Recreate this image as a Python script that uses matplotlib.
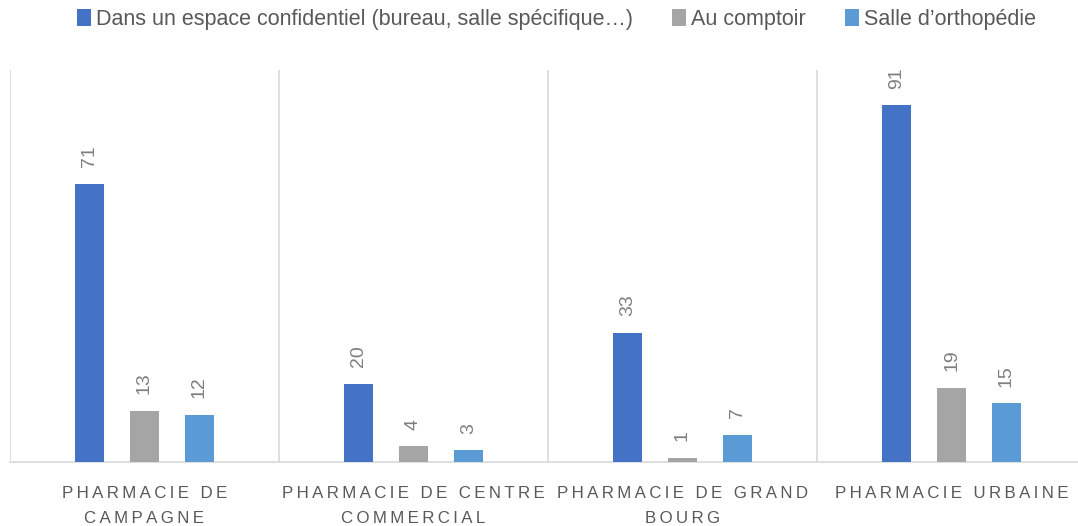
import numpy as np
import matplotlib.pyplot as plt
from matplotlib import font_manager

# Data
categories = ["PHARMACIE DE\nCAMPAGNE", "PHARMACIE DE CENTRE\nCOMMERCIAL",
              "PHARMACIE DE GRAND\nBOURG", "PHARMACIE URBAINE"]
series_names = ["Dans un espace confidentiel (bureau, salle spécifique…)",
                "Au comptoir", "Salle d’orthopédie"]
confidentiel = [71, 20, 33, 91]
comptoir = [13, 4, 1, 19]
orthopedie = [12, 3, 7, 15]
colors = ["#4472C4", "#A5A5A5", "#5B9BD5"]

names = {f.name for f in font_manager.fontManager.ttflist}
base = "Liberation Sans Narrow" if "Liberation Sans Narrow" in names else "Liberation Sans"
plt.rcParams['font.family'] = [base, 'DejaVu Sans']

THIN = "\u2009"


def spaced(label):
    # imitate letter spacing of the original
    lines = []
    for line in label.split("\n"):
        words = [THIN.join(w) for w in line.split(" ")]
        lines.append((THIN + " " + THIN).join(words))
    return "\n".join(lines)


fig = plt.figure(figsize=(10.78, 5.26), dpi=100)
ax = fig.add_axes([10 / 1078, 64 / 526, 1076 / 1078, 392 / 526])

x = np.arange(len(categories))
offset = 0.204
width = 0.108
all_series = [confidentiel, comptoir, orthopedie]
for k, (vals, col, name) in enumerate(zip(all_series, colors, series_names)):
    pos = x + (k - 1) * offset
    bars = ax.bar(pos, vals, width, color=col, label=name, zorder=3)
    for b, v in zip(bars, vals):
        ax.annotate(str(v), (b.get_x() + b.get_width() / 2, v),
                    xytext=(0, 12), textcoords="offset points",
                    rotation=90, ha='center', va='bottom',
                    fontsize=14, color="#7F7F7F")

ax.set_xlim(-0.5, len(categories) - 0.5)
ax.set_ylim(0, 100)
ax.set_yticks([])
for s in ['top', 'right', 'left']:
    ax.spines[s].set_visible(False)
ax.spines['bottom'].set_color("#D9D9D9")
ax.spines['bottom'].set_linewidth(1.2)
for b in np.arange(-0.5, len(categories) + 0.5, 1):
    ax.axvline(b, color="#D9D9D9", linewidth=1.2, zorder=1)

ax.set_xticks(x)
ax.set_xticklabels([spaced(c) for c in categories], fontsize=12.2,
                   color="#595959", linespacing=1.9)
ax.tick_params(axis='x', length=0, pad=17)

leg = fig.legend(loc='upper center', bbox_to_anchor=(0.516, 1.02), ncol=3,
                 frameon=False, fontsize=15.5, handlelength=0.65, handleheight=0.8,
                 handletextpad=0.25, columnspacing=1.8)
for t in leg.get_texts():
    t.set_color("#595959")

fig.savefig("out.png", dpi=100)
